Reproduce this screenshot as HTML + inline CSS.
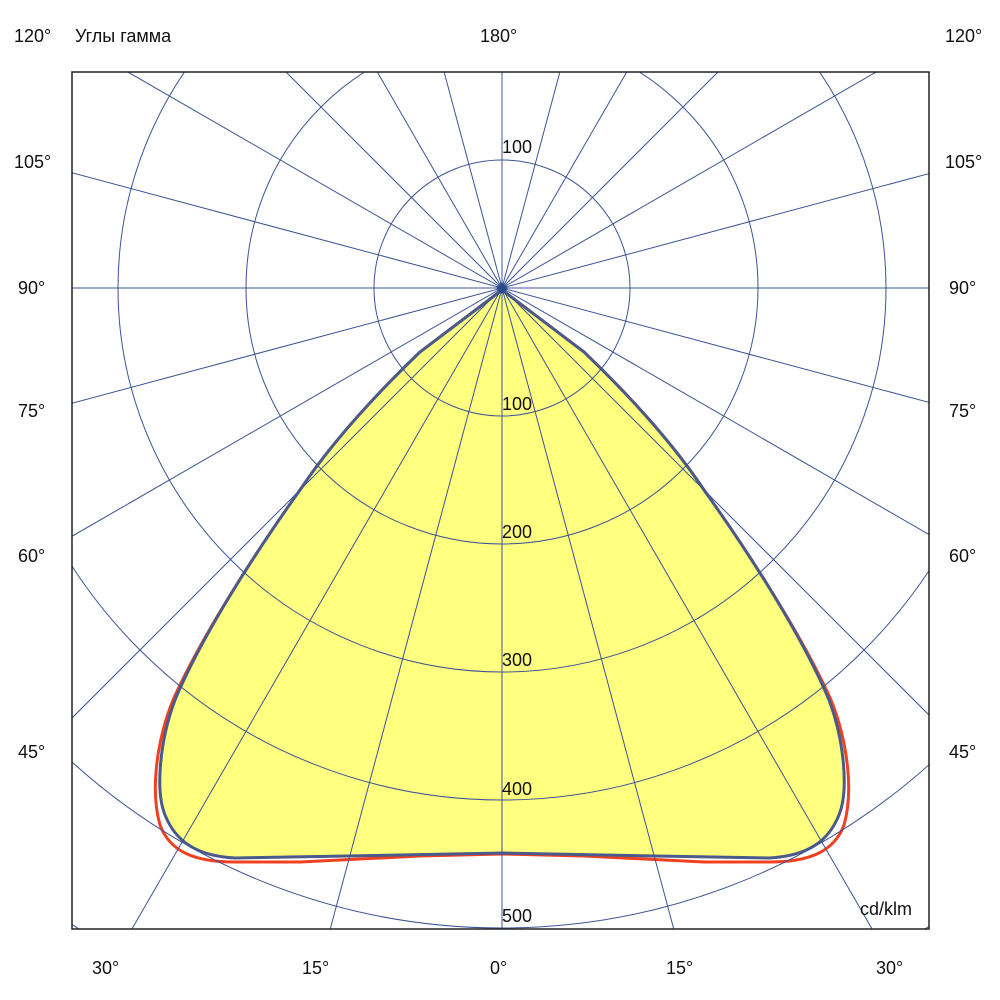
<!DOCTYPE html>
<html><head><meta charset="utf-8"><style>
html,body{margin:0;background:#fff;width:1000px;height:1000px;overflow:hidden;}
svg{display:block;}
svg text{font-family:"Liberation Sans",Arial,sans-serif;font-size:18px;fill:#111;}
</style></head><body>
<svg width="1000" height="1000" viewBox="0 0 1000 1000" xmlns="http://www.w3.org/2000/svg">
<defs><clipPath id="c"><rect x="72" y="72" width="857" height="857"/></clipPath></defs>
<rect width="1000" height="1000" fill="#fff"/>
<g clip-path="url(#c)">
<path d="M502,290 L420,352 C370,400 330,445 300,490 C250,560 200,640 173,700 C157,740 150,790 160,825 C170,852 195,862 235,862 L300,862 L420,856 L502,854 L584,856 L704,862 L769,862 C809,862 834,852 844,825 C854,790 847,740 831,700 C804,640 754,560 704,490 C674,445 634,400 584,352 Z" fill="none" stroke="#f04020" stroke-width="3"/>
<path d="M502,290 L420,352 C370,400 330,445 300,490 C250,560 200,640 175,700 C160,740 155,790 165,815 C175,840 195,856 235,858 L400,855 L502,853 L604,855 L769,858 C809,856 829,840 839,815 C849,790 844,740 829,700 C804,640 754,560 704,490 C674,445 634,400 584,352 Z" fill="#ffff80" stroke="#4a5a8a" stroke-width="3"/>
<g fill="none" stroke="#3c5494" stroke-width="1">
<circle cx="502" cy="288" r="128"/><circle cx="502" cy="288" r="256"/><circle cx="502" cy="288" r="384"/><circle cx="502" cy="288" r="512"/><circle cx="502" cy="288" r="640"/><circle cx="502" cy="288" r="768"/>
<line x1="502" y1="-1000" x2="502" y2="1600"/>
<line x1="502" y1="-1000" x2="502" y2="1600" transform="rotate(15 502 288)"/>
<line x1="502" y1="-1000" x2="502" y2="1600" transform="rotate(30 502 288)"/>
<line x1="502" y1="-1000" x2="502" y2="1600" transform="rotate(45 502 288)"/>
<line x1="502" y1="-1000" x2="502" y2="1600" transform="rotate(60 502 288)"/>
<line x1="502" y1="-1000" x2="502" y2="1600" transform="rotate(75 502 288)"/>
<line x1="502" y1="-1000" x2="502" y2="1600" transform="rotate(90 502 288)"/>
<line x1="502" y1="-1000" x2="502" y2="1600" transform="rotate(105 502 288)"/>
<line x1="502" y1="-1000" x2="502" y2="1600" transform="rotate(120 502 288)"/>
<line x1="502" y1="-1000" x2="502" y2="1600" transform="rotate(135 502 288)"/>
<line x1="502" y1="-1000" x2="502" y2="1600" transform="rotate(150 502 288)"/>
<line x1="502" y1="-1000" x2="502" y2="1600" transform="rotate(165 502 288)"/>
</g>
<polygon points="502,282 508,288 502,294 496,288" fill="#2a4a8a"/>
</g>
<rect x="72" y="72" width="857" height="857" fill="none" stroke="#222" stroke-width="1.5"/>
<text x="14" y="42">120°</text><text x="75" y="42">Углы гамма</text><text x="480" y="42">180°</text><text x="945" y="42">120°</text>
<text x="14" y="168">105°</text><text x="945" y="168">105°</text>
<text x="18" y="294">90°</text><text x="949" y="294">90°</text>
<text x="18" y="417">75°</text><text x="949" y="417">75°</text>
<text x="18" y="562">60°</text><text x="949" y="562">60°</text>
<text x="18" y="758">45°</text><text x="949" y="758">45°</text>
<text x="92" y="974">30°</text><text x="302" y="974">15°</text><text x="490" y="974">0°</text><text x="666" y="974">15°</text><text x="876" y="974">30°</text>
<text x="502" y="153">100</text><text x="502" y="410">100</text><text x="502" y="538">200</text><text x="502" y="666">300</text><text x="502" y="795">400</text><text x="502" y="922">500</text>
<text x="860" y="915">cd/klm</text>
</svg>
</body></html>
